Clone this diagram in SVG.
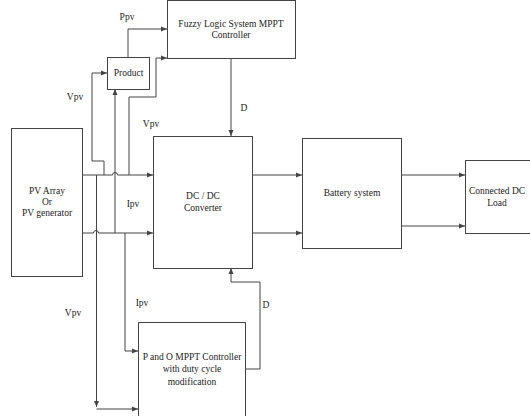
<svg xmlns="http://www.w3.org/2000/svg" width="530" height="416" viewBox="0 0 530 416">
<style>
.box{fill:#fff;stroke:#444;stroke-width:1}
.ln{fill:none;stroke:#444;stroke-width:1}
text{fill:#222;text-anchor:middle;font-family:"Liberation Serif","Times New Roman",serif;font-size:9.5px}
</style>
<defs>
<marker id="ah" markerUnits="userSpaceOnUse" markerWidth="7" markerHeight="6" refX="6" refY="3" orient="auto">
<path d="M0,0.5 L6,3 L0,5.5 Z" fill="#444"/>
</marker>
</defs>
<rect width="530" height="416" fill="#fff"/>
<g id="connectors">
<path class="ln" d="M82,175 H112.5 A2.5,2.5 0 0 1 117.5,175 H153" marker-end="url(#ah)"/>
<path class="ln" d="M82,233 H93.5 A2.5,2.5 0 0 1 98.5,233 H153" marker-end="url(#ah)"/>
<path class="ln" d="M104,175 V161 H92 V73 H107" marker-end="url(#ah)"/>
<path class="ln" d="M115,233 V89" marker-end="url(#ah)"/>
<path class="ln" d="M129,175 V97 H156 V58 H167" marker-end="url(#ah)"/>
<path class="ln" d="M128,57 V29 H167" marker-end="url(#ah)"/>
<path class="ln" d="M231,58 V136" marker-end="url(#ah)"/>
<path class="ln" d="M96.5,175 V407" marker-end="url(#ah)"/>
<path class="ln" d="M96.5,409 H138" marker-end="url(#ah)"/>
<path class="ln" d="M125,233 V351 H138" marker-end="url(#ah)"/>
<path class="ln" d="M245,369 H260 V282 H231 V268" marker-end="url(#ah)"/>
<path class="ln" d="M253,175 H302" marker-end="url(#ah)"/>
<path class="ln" d="M253,233 H302" marker-end="url(#ah)"/>
<path class="ln" d="M401,175 H465" marker-end="url(#ah)"/>
<path class="ln" d="M401,226 H465" marker-end="url(#ah)"/>
<text x="127" y="20">Ppv</text>
<text x="75" y="100">Vpv</text>
<text x="151" y="127">Vpv</text>
<text x="133" y="207">Ipv</text>
<text x="244" y="111">D</text>
<text x="142" y="306">Ipv</text>
<text x="73" y="316">Vpv</text>
<text x="266" y="308">D</text>
</g>
<g id="pv">
<rect class="box" x="11.5" y="128.5" width="71" height="148"/>
<text x="47" y="194">PV Array</text>
<text x="47" y="205">Or</text>
<text x="47" y="216">PV generator</text>
</g>
<g id="product">
<rect class="box" x="107.5" y="57.5" width="42" height="32"/>
<text x="128.5" y="76">Product</text>
</g>
<g id="fuzzy">
<rect class="box" x="167.5" y="0.5" width="128" height="58"/>
<text x="231" y="27">Fuzzy Logic System MPPT</text>
<text x="231" y="38">Controller</text>
</g>
<g id="dcdc">
<rect class="box" x="153.5" y="136.5" width="99" height="132"/>
<text x="203" y="199">DC / DC</text>
<text x="203" y="211">Converter</text>
</g>
<g id="battery">
<rect class="box" x="302.5" y="138.5" width="99" height="110"/>
<text x="352" y="196">Battery system</text>
</g>
<g id="load">
<rect class="box" x="465.5" y="160.5" width="65" height="73"/>
<text x="497" y="194">Connected DC</text>
<text x="497" y="206">Load</text>
</g>
<g id="po">
<rect class="box" x="138.5" y="322.5" width="107" height="100"/>
<text x="192" y="360">P and O MPPT Controller</text>
<text x="192" y="372">with duty cycle</text>
<text x="192" y="385">modification</text>
</g>
</svg>
